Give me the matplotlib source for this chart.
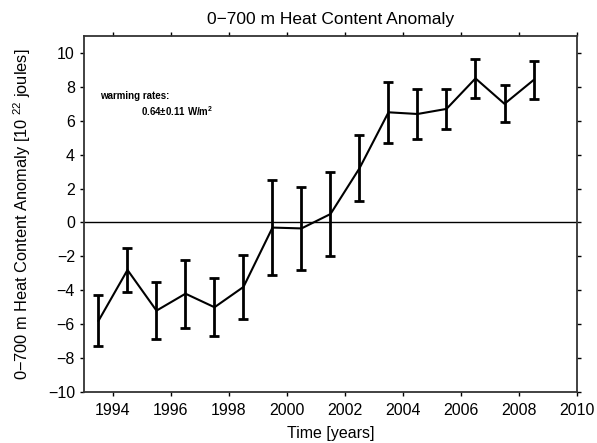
import matplotlib
matplotlib.use("Agg")
import matplotlib.pyplot as plt
import numpy as np

plt.rcParams["font.family"] = ["Liberation Sans", "DejaVu Sans"]
plt.rcParams["mathtext.default"] = "regular"

# yearly 0-700 m ocean heat content anomaly, 10^22 J, mid-year
years = [1993.5, 1994.5, 1995.5, 1996.5, 1997.5, 1998.5, 1999.5, 2000.5,
         2001.5, 2002.5, 2003.5, 2004.5, 2005.5, 2006.5, 2007.5, 2008.5]
anomaly = [-5.8, -2.8, -5.2, -4.2, -5.0, -3.8, -0.3, -0.35,
           0.5, 3.2, 6.5, 6.4, 6.7, 8.5, 7.0, 8.4]
error = [1.5, 1.3, 1.7, 2.0, 1.7, 1.9, 2.8, 2.45,
         2.5, 1.95, 1.8, 1.5, 1.2, 1.15, 1.1, 1.1]

x_ticks = [1994, 1996, 1998, 2000, 2002, 2004, 2006, 2008, 2010]
y_ticks = [-10, -8, -6, -4, -2, 0, 2, 4, 6, 8, 10]

fig = plt.figure(figsize=(5.97, 4.43), dpi=100)
ax = fig.add_axes([0.1407, 0.1151, 0.8258, 0.8036])

ax.axhline(0, color="black", linewidth=1.0, zorder=1)
ax.errorbar(years, anomaly, yerr=error, color="black", linewidth=1.5,
            elinewidth=2.0, capsize=3.5, capthick=2.0, zorder=3)

ax.set_xlim(1993, 2010)
ax.set_ylim(-10, 11)
ax.set_xticks(x_ticks)
ax.set_yticks(y_ticks)
ax.tick_params(direction="out", length=3, width=1, labelsize=11.5,
               top=True, right=True, labeltop=False, labelright=False)
ax.tick_params(axis="x", pad=5)
for sp in ax.spines.values():
    sp.set_linewidth(1.3)
    sp.set_color("#333333")

ax.set_title("0\u2212700 m Heat Content Anomaly", fontsize=12.5, pad=9)
ax.set_xlabel("Time [years]", fontsize=11.5, labelpad=6)
ax.set_ylabel("0\u2212700 m Heat Content Anomaly [10 $^{22}$ joules]",
              fontsize=11.8, labelpad=11)

ax.text(0.032, 0.831, "warming rates:", transform=ax.transAxes,
        fontsize=7, fontweight="bold", ha="left", va="center")
ax.text(0.116, 0.789, "0.64\u00b10.11 W/m$^2$", transform=ax.transAxes,
        fontsize=7, fontweight="bold", ha="left", va="center")

fig.savefig("out.png", dpi=100)
